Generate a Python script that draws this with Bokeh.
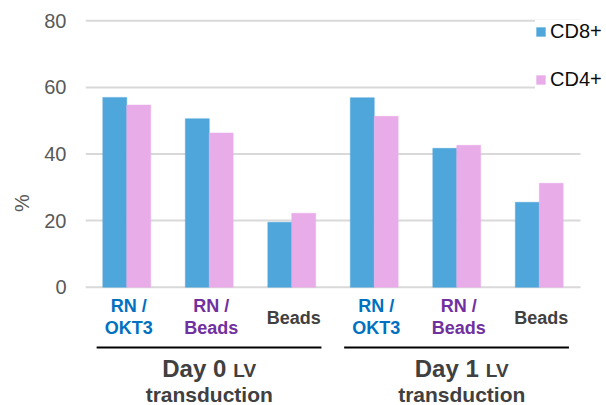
from bokeh.plotting import figure
from bokeh.models import ColumnDataSource, Range1d, Legend, LegendItem, FixedTicker
from bokeh.core.properties import value
from bokeh.transform import dodge
from bokeh.embed import file_html
from bokeh.resources import INLINE

# ---- data ----
groups = ["Day 0", "Day 1"]
group_suffix = "LV"
group_line2 = "transduction"
categories = ["RN /\nOKT3", "RN /\nBeads", "Beads", "RN /\nOKT3", "RN /\nBeads", "Beads"]
category_colors = ["#0070C0", "#7030A0", "#404040", "#0070C0", "#7030A0", "#404040"]
cd8 = [57.0, 50.6, 19.5, 56.9, 41.7, 25.5]
cd4 = [54.7, 46.3, 22.2, 51.3, 42.6, 31.2]
y_ticks = [0, 20, 40, 60, 80]
series_names = ["CD8+", "CD4+"]
series_colors = ["#4FA6DB", "#E8ACE8"]

FONT = "Liberation Sans"
W, H = 606, 405
LEFT = 85
N = len(categories)
PPU_X = 82.5           # px per category
PPU_Y = 3.33           # px per % unit
ZERO_PX = 286.7        # zero line, px from top
BASE_FIX = 0.40        # renderer baseline correction (fraction of font size)
x_end = N + (W - LEFT - N * PPU_X) / PPU_X
y_top = ZERO_PX / PPU_Y
y_bot = -(H - ZERO_PX) / PPU_Y


def ybase(px_below_zero, font_px):
    return -(px_below_zero - BASE_FIX * font_px) / PPU_Y


xs = [i + 0.5 for i in range(N)]
src = ColumnDataSource(dict(x=xs, cd8=cd8, cd4=cd4))

p = figure(width=W, height=H, output_backend="svg", toolbar_location=None,
           x_range=Range1d(0, x_end), y_range=Range1d(y_bot, y_top),
           min_border_left=LEFT, min_border_right=0,
           min_border_top=0, min_border_bottom=0)
p.outline_line_color = None
p.background_fill_color = "white"
p.border_fill_color = "white"
p.xaxis.visible = False
p.xgrid.visible = False
p.ygrid.visible = False

# horizontal grid lines, only across the category area
p.segment(x0=[0] * len(y_ticks), x1=[N] * len(y_ticks), y0=y_ticks, y1=y_ticks,
          line_color="#D9D9D9", line_width=2)

bw = 0.29
r1 = p.vbar(x=dodge("x", -bw / 2, range=p.x_range), top="cd8", width=bw, source=src,
            fill_color=series_colors[0], line_color=series_colors[0], line_width=0.5)
r2 = p.vbar(x=dodge("x", bw / 2, range=p.x_range), top="cd4", width=bw, source=src,
            fill_color=series_colors[1], line_color=series_colors[1], line_width=0.5)

# y axis
p.yaxis.ticker = FixedTicker(ticks=y_ticks)
p.yaxis.axis_line_color = None
p.yaxis.major_tick_line_color = None
p.yaxis.minor_tick_line_color = None
p.yaxis.major_tick_out = 0
p.yaxis.major_tick_in = 0
p.yaxis.major_label_standoff = 19
p.yaxis.major_label_text_font = FONT
p.yaxis.major_label_text_font_size = "20px"
p.yaxis.major_label_text_color = "#595959"
p.yaxis.axis_label = "%"
p.yaxis.axis_label_text_font = FONT
p.yaxis.axis_label_text_font_size = "20px"
p.yaxis.axis_label_text_font_style = "normal"
p.yaxis.axis_label_text_color = "#595959"
p.yaxis.axis_label_standoff = 8

# category labels (drawn below the zero line)
l_x, l_y, l_txt, l_col = [], [], [], []
for x, cat, col in zip(xs, categories, category_colors):
    lines = cat.split("\n")
    offs = [26.3, 48.3] if len(lines) == 2 else [38.0]
    for ln, off in zip(lines, offs):
        l_x.append(x + 2 / PPU_X)
        l_y.append(ybase(off, 18))
        l_txt.append(ln)
        l_col.append(col)
p.text(x=l_x, y=l_y, text=l_txt, text_color=l_col, text_align="center",
       text_baseline="alphabetic", text_font=value(FONT), text_font_size="18px",
       text_font_style="bold")

# group underline + labels
n_per = N // len(groups)
group_shift = [0, 5]
seg_x0, seg_x1 = [], []
g1_x, g2_x, g3_x = [], [], []
for gi, g in enumerate(groups):
    x0 = gi * n_per
    x1 = x0 + n_per
    xc = (x0 + x1) / 2 + group_shift[gi] / PPU_X
    seg_x0.append(x0 + 0.135)
    seg_x1.append(x1 - 0.14)
    g1_x.append(xc + 17 / PPU_X)
    g2_x.append(xc + 24 / PPU_X)
    g3_x.append(xc)
yl = -60.3 / PPU_Y
ng = len(groups)
p.segment(x0=seg_x0, x1=seg_x1, y0=[yl] * ng, y1=[yl] * ng,
          line_color="black", line_width=2)
p.text(x=g1_x, y=[ybase(91.3, 24)] * ng, text=groups, text_align="right",
       text_baseline="alphabetic", text_font=value(FONT), text_font_size="24px",
       text_font_style="bold", text_color="#404040")
p.text(x=g2_x, y=[ybase(91.3, 19)] * ng, text=[group_suffix] * ng,
       text_align="left", text_baseline="alphabetic", text_font=value(FONT),
       text_font_size="19px", text_font_style="bold", text_color="#404040")
p.text(x=g3_x, y=[ybase(115.3, 21)] * ng, text=[group_line2] * ng,
       text_align="center", text_baseline="alphabetic", text_font=value(FONT),
       text_font_size="21px", text_font_style="bold", text_color="#404040")

# legend (location = bottom-left corner of the legend box, from frame bottom-left)
PAD, ITEM_H, SPACING = 2, 22, 25
leg_h = 2 * PAD + 2 * ITEM_H + SPACING
leg_top = 30.5 - ITEM_H / 2 - PAD
legend = Legend(items=[LegendItem(label=series_names[0], renderers=[r1]),
                       LegendItem(label=series_names[1], renderers=[r2])],
                location=(535 - LEFT, H - leg_top - leg_h), orientation="vertical",
                spacing=SPACING, padding=PAD, margin=0, border_line_color=None,
                background_fill_color="white", background_fill_alpha=1.0,
                glyph_width=11, glyph_height=11, label_standoff=4, label_height=ITEM_H,
                label_text_font=FONT, label_text_font_size="20px",
                label_text_color="#0d0d0d")
p.add_layout(legend)

open("out.html", "w").write(file_html(p, INLINE))
